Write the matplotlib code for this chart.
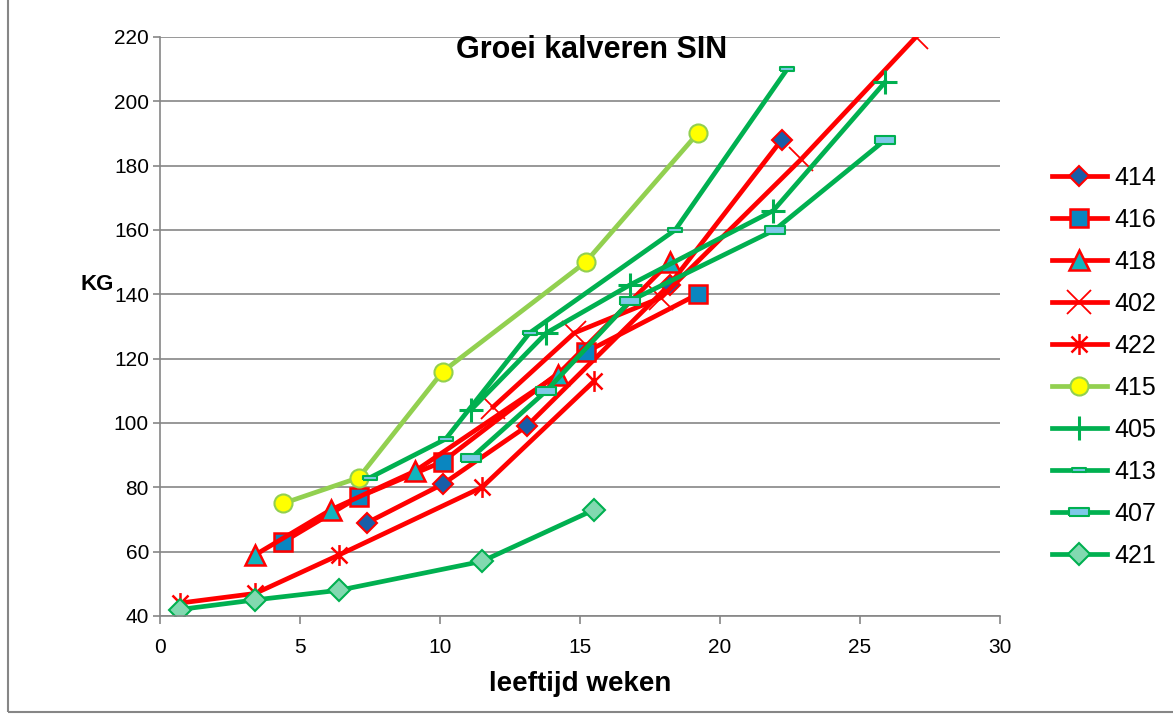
import numpy as np
import matplotlib.pyplot as plt
from matplotlib.path import Path
from matplotlib.patches import Rectangle

plt.rcParams['font.family'] = ['Liberation Sans', 'DejaVu Sans']

# leeftijd (weken) en gewicht (kg) per kalf
x_414 = [7.4, 10.1, 13.1, 18.2, 22.2]
y_414 = [69, 81, 99, 143, 188]
x_416 = [4.4, 7.1, 10.1, 15.2, 19.2]
y_416 = [63, 77, 88, 122, 140]
x_418 = [3.4, 6.1, 9.1, 14.2, 18.2]
y_418 = [59, 73, 85, 115, 150]
x_402 = [11.9, 14.8, 17.9, 22.9, 27.0]
y_402 = [105, 128, 139, 182, 220]
x_422 = [0.7, 3.4, 6.4, 11.5, 15.5]
y_422 = [44, 47, 59, 80, 113]
x_415 = [4.4, 7.1, 10.1, 15.2, 19.2]
y_415 = [75, 83, 116, 150, 190]
x_405 = [11.1, 13.8, 16.8, 21.9, 25.9]
y_405 = [104, 128, 143, 166, 206]
x_413 = [7.5, 10.2, 13.2, 18.4, 22.4]
y_413 = [83, 95, 128, 160, 210]
x_407 = [11.1, 13.8, 16.8, 21.95, 25.9]
y_407 = [89, 110, 138, 160, 188]
x_421 = [0.7, 3.4, 6.4, 11.5, 15.5]
y_421 = [42, 45, 48, 57, 73]

red = '#FF0000'
green = '#00B050'
lightgreen = '#92D050'

asterisk = Path([(-1, -1), (1, 1), (-1, 1), (1, -1), (0, -1.3), (0, 1.3)],
                [Path.MOVETO, Path.LINETO, Path.MOVETO, Path.LINETO, Path.MOVETO, Path.LINETO])
dash = [(-1, -0.35), (1, -0.35), (1, 0.35), (-1, 0.35), (-1, -0.35)]

fig = plt.figure(figsize=(11.73, 7.18), dpi=100)
ax = fig.add_axes([0.1364, 0.1421, 0.7161, 0.8064])

lw = 3.4
ax.plot(x_414, y_414, color=red, lw=lw, marker='D', ms=10, mfc='#1A5EA8', mec=red, mew=1.5, label='414')
ax.plot(x_416, y_416, color=red, lw=lw, marker='s', ms=13, mfc='#0A86C0', mec=red, mew=1.8, label='416')
ax.plot(x_418, y_418, color=red, lw=lw, marker='^', ms=14, mfc='#12B4BE', mec=red, mew=1.8, label='418')
ax.plot(x_402, y_402, color=red, lw=lw, marker='x', ms=17, mec=red, mew=1.3, label='402')
ax.plot(x_422, y_422, color=red, lw=lw, marker=asterisk, ms=15, mfc='none', mec=red, mew=1.8, label='422')
ax.plot(x_415, y_415, color=lightgreen, lw=lw, marker='o', ms=13, mfc='#FFFF00', mec=lightgreen, mew=1.5, label='415')
ax.plot(x_405, y_405, color=green, lw=lw, marker='+', ms=17, mec=green, mew=2.2, label='405')
ax.plot(x_413, y_413, color=green, lw=lw, marker=dash, ms=10, mfc='#7EC8E8', mec=green, mew=1.5, label='413')
ax.plot(x_407, y_407, color=green, lw=lw, marker=dash, ms=15, mfc='#7EC8E8', mec=green, mew=1.5, label='407')
ax.plot(x_421, y_421, color=green, lw=lw, marker='D', ms=11, mfc='#82D9B0', mec=green, mew=1.5, label='421')

ax.set_xlim(0, 30)
ax.set_ylim(40, 220)
ax.set_xticks(range(0, 31, 5))
ax.set_yticks(range(40, 221, 20))
ax.yaxis.grid(True, color='#868686', lw=1.2)
ax.set_axisbelow(True)
for s in ['top', 'right']:
    ax.spines[s].set_visible(False)
for s in ['left', 'bottom']:
    ax.spines[s].set_color('#868686')
    ax.spines[s].set_linewidth(1.2)
ax.tick_params(axis='both', labelsize=15, color='#868686', width=1.2)
ax.tick_params(axis='x', length=6, pad=10)
ax.tick_params(axis='y', length=5, pad=3)

ax.text(0.514, 0.978, 'Groei kalveren SIN', transform=ax.transAxes, ha='center', va='center',
        fontsize=22, fontweight='bold')
ax.set_xlabel('leeftijd weken', fontsize=20, fontweight='bold', labelpad=10)
ax.set_ylabel('KG', fontsize=16, fontweight='bold', rotation=0)
ax.yaxis.set_label_coords(-0.075, 0.555)

ax.legend(loc='center left', bbox_to_anchor=(1.035, 0.43), frameon=False, fontsize=18,
          handlelength=2.2, labelspacing=0.72, handletextpad=0.3)

fig.patches.append(Rectangle((0.007, 0.008), 1.1, 1.1, transform=fig.transFigure,
                             fill=False, edgecolor='#868686', lw=1.5))

fig.savefig('out.png', dpi=100)
